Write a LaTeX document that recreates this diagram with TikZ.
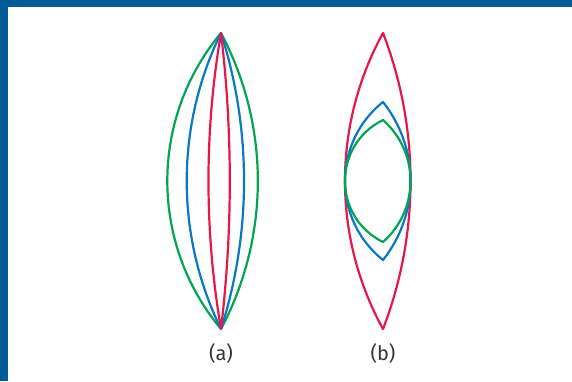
\documentclass[tikz,border=0pt]{standalone}
\usepackage{fontspec}
\setmainfont{Fira Sans}
\definecolor{framebl}{HTML}{005A96}
\definecolor{lgreen}{HTML}{00A651}
\definecolor{lblue}{HTML}{0A78C6}
\definecolor{lred}{HTML}{E8174A}
\definecolor{labgray}{HTML}{333333}
\begin{document}
\begin{tikzpicture}[x=1pt,y=-1pt,
  lens/.style={line width=2.2pt, line join=round, line cap=round},
  lab/.style={font=\fontsize{20}{24}\selectfont, text=labgray, inner sep=0pt}]
\useasboundingbox (0,0) rectangle (572,381);
\fill[framebl] (0,0) rectangle (572,6.5);
\fill[framebl] (0,0) rectangle (7.7,381);
% (a)
\coordinate (aT) at (221,33);
\coordinate (aB) at (221,329);
\draw[lens,lgreen] (aT) .. controls +(-71.6,85.7) and +(-71.6,-85.7) .. (aB)
  .. controls +(49.1,-92.6) and +(49.1,92.6) .. (aT) -- cycle;
\draw[lens,lblue] (aT) .. controls +(-45.7,93.4) and +(-45.7,-93.4) .. (aB)
  .. controls +(30.7,-96.3) and +(30.7,96.3) .. (aT) -- cycle;
\draw[lens,lred] (aT) .. controls +(-16.7,98.0) and +(-16.7,-98.0) .. (aB)
  .. controls +(11.7,-98.3) and +(11.7,98.3) .. (aT) -- cycle;
% (b)
\coordinate (bT1) at (383,33);
\coordinate (bB1) at (383,329);
\coordinate (bT2) at (383,102);
\coordinate (bB2) at (383,260);
\coordinate (bT3) at (383,120);
\coordinate (bB3) at (383,242);
\draw[lens,lred] (bT1) .. controls +(-50.7,92.2) and +(-50.7,-92.2) .. (bB1)
  .. controls +(36.7,-95.2) and +(36.7,95.2) .. (bT1) -- cycle;
\draw[lens,lblue] (bT2) .. controls +(-50.7,40.5) and +(-50.7,-40.5) .. (bB2)
  .. controls +(36.7,-46.3) and +(36.7,46.3) .. (bT2) -- cycle;
\draw[lens,lgreen] (bT3) .. controls +(-50.7,24.9) and +(-50.7,-24.9) .. (bB3)
  .. controls +(36.7,-32.4) and +(36.7,32.4) .. (bT3) -- cycle;
% labels
\node[lab] (la) at (221,353) {(a)};
\node[lab] (lb) at (383,353) {(b)};
\end{tikzpicture}
\end{document}
